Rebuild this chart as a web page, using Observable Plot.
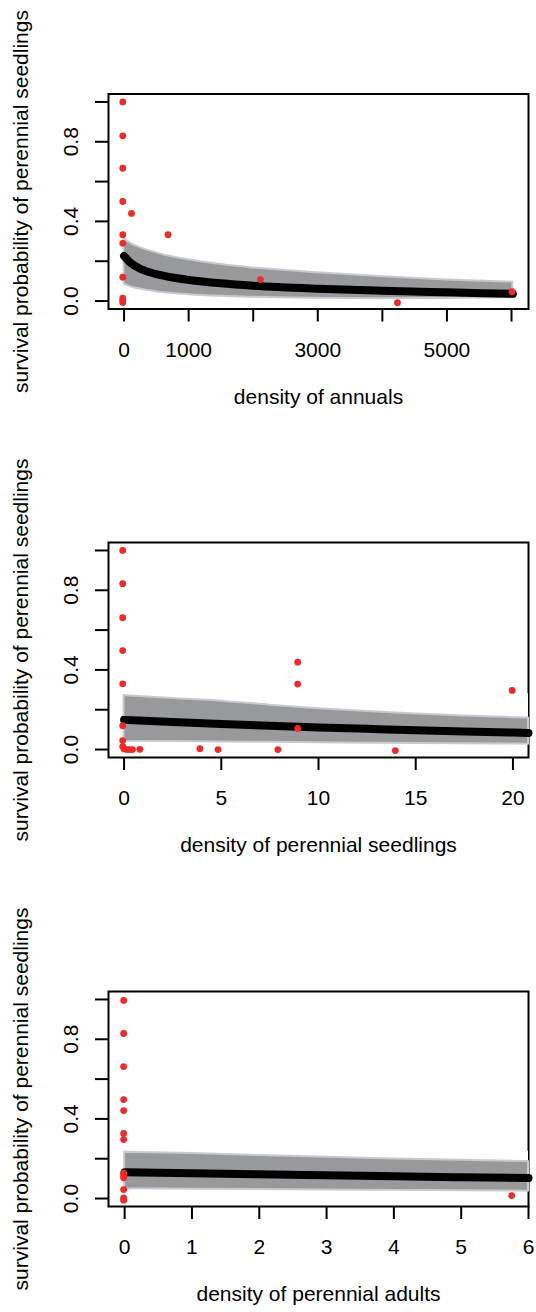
<!DOCTYPE html>
<html>
<head>
<meta charset="utf-8">
<script src="https://cdn.jsdelivr.net/npm/d3@7"></script>
<script src="https://cdn.jsdelivr.net/npm/@observablehq/plot@0.6"></script>
<style>
  html, body { margin: 0; padding: 0; background: #fff; }
  #chart svg { display: block; }
</style>
</head>
<body>
<div id="chart"></div>
<script>
// ---- shared axis data ----
const yTitle = "survival probability of perennial seedlings";
const yTicks = [0, 0.2, 0.4, 0.6, 0.8, 1.0];
const yLabels = [0, 0.4, 0.8];

// ---- panel 1: density of annuals ----
const annualsTitle = "density of annuals";
const annualsDomain = [-241, 6263];
const annualsTicks = [0, 1000, 2000, 3000, 4000, 5000, 6000];
const annualsLabels = [0, 1000, 3000, 5000];
const annualsPtX = [-20, -20, -20, -20, -20, -20, -20, -20, -20, -20, 115, 681, 2111, 4234, 6008];
const annualsPtY = [1.0, 0.83, 0.667, 0.5, 0.333, 0.29, 0.12, 0.015, 0.004, -0.007, 0.44, 0.333, 0.108, -0.008, 0.047];
const annualsFitX = [0, 100, 250, 500, 750, 1000, 1500, 2000, 3000, 4000, 5000, 6020];
const annualsFitY = [0.226, 0.192, 0.162, 0.135, 0.118, 0.106, 0.089, 0.077, 0.062, 0.052, 0.044, 0.036];
const annualsHi = [0.314, 0.29, 0.268, 0.242, 0.222, 0.207, 0.183, 0.166, 0.142, 0.122, 0.106, 0.095];
const annualsLo = [0.085, 0.072, 0.06, 0.047, 0.038, 0.032, 0.024, 0.019, 0.014, 0.012, 0.013, 0.016];

// ---- panel 2: density of perennial seedlings ----
const seedTitle = "density of perennial seedlings";
const seedDomain = [-0.8, 20.8];
const seedTicks = [0, 5, 10, 15, 20];
const seedLabels = [0, 5, 10, 15, 20];
const seedPtX = [-0.07, -0.07, -0.07, -0.07, -0.07, -0.07, -0.07, -0.07, 0.0, 0.15, 0.29, 0.43, 0.81, 3.9, 4.83, 7.91, 8.93, 8.93, 8.93, 13.95, 19.96];
const seedPtY = [1.0, 0.833, 0.662, 0.497, 0.33, 0.12, 0.045, 0.015, 0.003, 0.0, 0.0, 0.0, 0.001, 0.004, 0.0, 0.0, 0.439, 0.329, 0.106, -0.005, 0.297];
const seedFitX = [0, 2.5, 5, 7.5, 10, 12.5, 15, 17.5, 20, 20.8];
const seedFitY = [0.149, 0.138, 0.128, 0.119, 0.111, 0.104, 0.097, 0.091, 0.085, 0.083];
const seedHi = [0.271, 0.256, 0.243, 0.223, 0.205, 0.191, 0.179, 0.168, 0.16, 0.158];
const seedLo = [0.042, 0.04, 0.038, 0.036, 0.034, 0.032, 0.03, 0.029, 0.028, 0.027];
const seedOuterHi = [0.29, 0.29, 0.29, 0.288, 0.286, 0.284, 0.283, 0.282, 0.28, 0.28];

// ---- panel 3: density of perennial adults ----
const adultTitle = "density of perennial adults";
const adultDomain = [-0.24, 6.0];
const adultTicks = [0, 1, 2, 3, 4, 5, 6];
const adultLabels = [0, 1, 2, 3, 4, 5, 6];
const adultPtX = [-0.015, -0.015, -0.015, -0.015, -0.015, -0.015, -0.015, -0.015, -0.015, -0.015, -0.015, -0.015, -0.015, 5.75];
const adultPtY = [0.995, 0.829, 0.663, 0.497, 0.442, 0.327, 0.296, 0.127, 0.116, 0.104, 0.045, 0.003, -0.008, 0.015];
const adultFitX = [0, 1, 2, 3, 4, 5, 6];
const adultFitY = [0.132, 0.127, 0.122, 0.117, 0.112, 0.107, 0.103];
const adultHi = [0.232, 0.226, 0.216, 0.207, 0.199, 0.192, 0.186];
const adultLo = [0.049, 0.047, 0.045, 0.043, 0.041, 0.039, 0.037];
const adultOuterHi = [0.24, 0.24, 0.24, 0.24, 0.239, 0.239, 0.238];

const FONT = "'Liberation Sans', Arial, Helvetica, sans-serif";
const FS = 21;
const RED = "#ee2a2a";
const BAND = "#98999d";

function panel(o) {
  const marks = [
    Plot.frame({stroke: "black", strokeWidth: 2}),
    Plot.axisY({ticks: yTicks, tickSize: 13, tickFormat: () => "", strokeWidth: 2, anchor: "left", label: null}),
    Plot.axisX({ticks: o.xTicks, tickSize: 13, tickFormat: () => "", strokeWidth: 2, anchor: "bottom", label: null}),
    Plot.text(yLabels, {y: d => d, text: d => d.toFixed(1), frameAnchor: "left", dx: -37, rotate: -90,
      textAnchor: "middle", lineAnchor: "middle", fontSize: FS, fill: "black"}),
    Plot.text(o.xLabels, {x: d => d, text: d => String(d), frameAnchor: "bottom", dy: 41,
      textAnchor: "middle", lineAnchor: "middle", fontSize: FS, fill: "black"}),
    Plot.text([o.xTitle], {text: d => d, frameAnchor: "bottom", dy: 88, textAnchor: "middle",
      lineAnchor: "middle", fontSize: FS, fill: "black"}),
    Plot.text([yTitle], {text: d => d, frameAnchor: "left", dx: -87, rotate: -90, textAnchor: "middle",
      lineAnchor: "middle", fontSize: FS, fill: "black"})
  ];
  if (o.outerHi) {
    marks.push(Plot.areaY(o.fitX, {x: o.fitX, y1: o.lo, y2: o.outerHi, fill: "white", curve: "monotone-x"}));
  }
  marks.push(
    Plot.areaY(o.fitX, {x: o.fitX, y1: o.lo, y2: o.hi, fill: BAND, stroke: "#c9cacd", strokeWidth: 2, curve: "monotone-x"}),
    Plot.line(o.fitX, {x: o.fitX, y: o.fitY, stroke: "black", strokeWidth: 8, strokeLinecap: "round", curve: "monotone-x"}),
    Plot.dot(o.ptX, {x: o.ptX, y: o.ptY, r: 3.4, fill: RED, stroke: "none"})
  );
  return Plot.plot({
    width: 536,
    height: o.height,
    marginLeft: 108,
    marginRight: 8,
    marginTop: o.marginTop,
    marginBottom: o.height - o.marginTop - 215,
    x: {domain: o.xDomain},
    y: {domain: [-0.04, 1.04]},
    style: {fontFamily: FONT, fontSize: FS + "px", background: "white", color: "black", overflow: "visible"},
    marks
  });
}

const chart = document.getElementById("chart");
chart.append(panel({
  height: 449, marginTop: 93.5, xDomain: annualsDomain, xTicks: annualsTicks, xLabels: annualsLabels,
  xTitle: annualsTitle, ptX: annualsPtX, ptY: annualsPtY, fitX: annualsFitX, fitY: annualsFitY,
  hi: annualsHi, lo: annualsLo
}));
chart.append(panel({
  height: 449, marginTop: 93, xDomain: seedDomain, xTicks: seedTicks, xLabels: seedLabels,
  xTitle: seedTitle, ptX: seedPtX, ptY: seedPtY, fitX: seedFitX, fitY: seedFitY,
  hi: seedHi, lo: seedLo, outerHi: seedOuterHi
}));
chart.append(panel({
  height: 414, marginTop: 93, xDomain: adultDomain, xTicks: adultTicks, xLabels: adultLabels,
  xTitle: adultTitle, ptX: adultPtX, ptY: adultPtY, fitX: adultFitX, fitY: adultFitY,
  hi: adultHi, lo: adultLo, outerHi: adultOuterHi
}));
</script>
</body>
</html>
